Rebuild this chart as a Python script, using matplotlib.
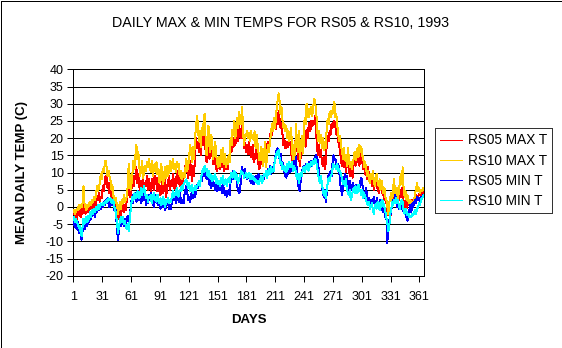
import numpy as np
import matplotlib
matplotlib.use("Agg")
import matplotlib.pyplot as plt
from matplotlib.patches import Rectangle

plt.rcParams['font.family'] = ['Liberation Sans', 'DejaVu Sans']
plt.rcParams['axes.unicode_minus'] = False

# daily temperatures, deg C, day 1..365 of 1993
rs05_max = [
    -1, -3, -2, -4, -1.5, -2.5, -1, -3, -0.5, -2,
    1.5, -1, -2, -0.5, 0.5, -1.5, 0, 1, -0.5, 0.5,
    -1, 1.5, 0, 1, 3, 2, 4, 1.5, 3, 2.5,
    6, 4.5, 7, 9, 8.5, 5.5, 7, 4, 5.5, 3,
    4, 2, 0.5, -1, 1.5, -2, -3.5, -1, -4, -2,
    -0.5, 1, -1.5, 0.5, -1, 2, 4, 5.5, 3,
    3, 5.5, 7, 6, 9, 8, 11.5, 7, 9.5, 6,
    5, 7.5, 4, 8, 5.5, 7, 6, 9, 5, 8,
    6.5, 4.5, 8, 7, 5, 9, 6.5, 8.5, 4.5, 7,
    5, 3.5, 6, 8.5, 4, 6.5, 8, 3, 5.5, 7,
    9, 5, 7.5, 6, 9.5, 5.5, 8, 4, 10.5, 7,
    9, 6, 8, 5, 7.5, 10, 9.5, 12, 10, 13,
    8.5, 11, 13.5, 10, 7.5, 12, 9, 15, 20, 17,
    19, 16, 20.5, 15, 21, 18, 22.5, 23, 16, 13,
    15, 18.5, 14, 16, 17.5, 15, 12.5, 14.5, 13, 11,
    10.5, 12, 14, 11, 13.5, 11.5, 14, 10.5, 13, 11,
    12.5, 11, 14, 15.5, 18, 16, 19, 17.5, 20, 18,
    21, 22.5, 19, 23.5, 21, 20, 26, 22, 17, 18.5,
    16, 18, 15.5, 19, 17, 14.5, 16, 18, 13, 15.5,
    14, 17.5, 15, 12.5, 11, 13.5, 16, 12.5, 14, 15,
    16.5, 14, 18, 19, 17.5, 20, 22.5, 21, 24, 23,
    25, 22.5, 26, 24, 28, 25.5, 23, 24.5, 21, 18,
    19.5, 17, 18, 19, 17.5, 18.5, 19, 16, 13, 15,
    12.5, 17.5, 21, 19, 14, 16, 12, 15, 17, 19.5,
    18, 21, 17.5, 22.5, 20, 23, 24.5, 22, 25, 23.5,
    25, 24, 26.5, 22, 17, 15, 18, 14.5, 16.5, 13,
    12, 14.5, 11, 13, 18, 20.5, 19, 22, 21, 24,
    23, 24.5, 25, 23.5, 21, 22.5, 19, 18, 16, 13,
    12, 15, 11.5, 14, 10, 12.5, 15, 11, 9, 12,
    10, 8.5, 12.5, 13.5, 12, 14.5, 13, 15.5, 12, 16,
    14, 13, 11, 12, 9.5, 10, 8, 11.5, 9, 7.5,
    8.5, 6, 7.5, 5, 6.5, 8, 5.5, 7, 4, 6.5,
    5, 6, 4, 3.5, 2, 3, 1.5, -1, -2.5, 0,
    -3, -1.5, 1, 3.5, 2, 4.5, 3, 1.5, 3.5, 2,
    4, 3, 5.5, 4, 1.5, 0, 2, -0.5, 1, 0.5,
    1.5, 0, 1, 2, 0.5, 1.5, 2.5, 3.5, 2, 3,
    3.5, 4.5, 3, 4, 3.5, 4.5,
]

rs10_max = [
    -1, -2, -1.5, -0.5, -1, 0.5, -0.5, 0.5, 0, 1,
    6, 1, 0, -1, 0.5, 0, 1, 1.5, 0.5, 2,
    1.5, 3, 2, 3.5, 6, 4.5, 5.5, 7, 9.5, 8,
    11, 10, 12, 13.5, 11.5, 9, 10.5, 9, 8, 5,
    6.5, 3.5, 2, 1, 2.5, -1, -2, 0, 1.5, -0.5,
    2, 1, 3.5, 1.5, 2, 3, 6, 12.5, 9,
    5, 7, 10, 13.5, 11, 15, 18, 14, 16, 12,
    9, 11, 13.5, 8.5, 10, 12, 10.5, 13, 11.5, 14,
    12, 10, 13.5, 9, 11, 12.5, 10, 13, 9.5, 11,
    7, 9.5, 12.5, 8, 6.5, 10, 11.5, 8.5, 12, 9,
    11, 13.5, 10.5, 12, 14, 11, 12.5, 10, 13, 11.5,
    12.5, 9, 10.5, 8, 9.5, 10, 8.5, 11, 14, 10.5,
    12, 15, 18, 16, 13, 17.5, 14, 20, 23, 26.5,
    24, 19, 22, 17.5, 23, 21, 25, 27, 20, 15,
    17.5, 23.5, 19, 16, 21, 18, 14, 17, 19, 15,
    13, 11.5, 14.5, 12, 16.5, 13, 17, 12.5, 15.5, 11.5,
    14, 12.5, 15, 13, 20, 18, 22.5, 21, 25, 20,
    24, 26, 23, 27.5, 25, 24, 29, 22, 18, 21,
    20.5, 22, 20, 21.5, 19, 22, 20, 21, 19.5, 22,
    17, 21, 18.5, 16, 13.5, 15, 17.5, 14, 12, 16,
    19, 11.5, 15, 18, 16, 19.5, 21, 24, 22, 26,
    23, 25, 29, 31, 33, 30.5, 27, 29, 25, 23,
    24, 22, 23.5, 20, 22, 19, 21.5, 23, 16, 14,
    18, 13.5, 24, 19, 16, 22, 14, 17, 20.5, 15.5,
    18, 26, 24, 30, 27, 26, 28.5, 27, 29, 26.5,
    29, 31.5, 30, 28, 23, 19, 22, 18.5, 21, 17,
    20, 16.5, 19, 17, 23, 25.5, 24, 27.5, 26, 28,
    27, 29, 30.5, 26, 27, 23.5, 21, 19, 20.5, 17.5,
    16, 14, 17, 13.5, 15, 12, 17, 14.5, 11.5, 13,
    11, 12.5, 14, 16, 13.5, 15.5, 17, 14.5, 18, 16,
    17.5, 15, 14, 11.5, 13, 11, 9, 10.5, 8, 7,
    9.5, 8, 10.5, 7.5, 6, 8.5, 9.5, 7, 6, 8,
    5, 7.5, 6, 4, 5.5, 3, 2, 0.5, -2, 1,
    2.5, 4, 1.5, 5, 8, 4.5, 3, 5.5, 2.5, 4,
    7, 9.5, 6.5, 11.5, 5, 3, 4.5, 2, 3.5, 1.5,
    1, 2, 0.5, 1.5, 0, 2, 4, 5, 7, 4.5,
    5.5, 4, 5, 4.5, 5.5, 5,
]

rs05_min = [
    -4, -6, -5, -6.5, -4.5, -7.5, -6, -8, -9.5, -7,
    -4, -6.5, -5, -3.5, -5.5, -3, -4.5, -2, -3.5, -1.5,
    -2.5, -1, -3, -0.5, -1.5, 0, -1, 0.5, -0.5, 1,
    0, 1.5, 0.5, 2, 1, 2.5, 1, 0, 1.5, 2,
    0.5, 1.5, -1, 0, -3, -7, -9.5, -6, -4, -5.5,
    -3, -4.5, -5.5, -3.5, -5, -4, -2.5, -4.5, -3,
    -0.5, 2, 1, 3.5, 2.5, 4, 1.5, 3, 4.5, 2,
    3.5, 1, 2.5, 4, 2, 3, 0.5, 2.5, 1, 3.5,
    2, 4, 1.5, 3, 0, 2, 3.5, 1, 2.5, 0.5,
    1.5, -0.5, 1, 2, 0, 1.5, -1, 0.5, 2, 1,
    -0.5, 0.5, -0.5, 1.5, 3, 2, 3.5, 1, 2.5, 3,
    1.5, 4, 2.5, 1, 2, 1, 3.5, 5, 6, 4,
    2, 3, 1.5, 3.5, 4.5, 2.5, 5, 3, 4, 6.5,
    5.5, 7, 6, 8.5, 7.5, 10, 9, 11, 8.5, 10.5,
    8, 9, 6.5, 7.5, 5.5, 8, 6, 7, 5, 6.5,
    4.5, 6, 5, 7, 5.5, 4, 6.5, 5, 3.5, 4.5,
    3, 4, 5, 3.5, 7.5, 9, 8, 10.5, 9.5, 8,
    10, 6, 4.5, 4, 5, 10, 11.5, 10, 9.5, 11,
    9, 8, 9.5, 8.5, 8, 7, 8.5, 7.5, 6.5, 8,
    9, 7.5, 8.5, 9.5, 8, 9, 8.5, 9, 8, 8.5,
    9.5, 10, 9, 11, 10.5, 12, 9.5, 11.5, 10, 12.5,
    13, 15.5, 16.5, 17, 15, 14, 15.5, 12, 13, 11.5,
    10, 9, 8.5, 10.5, 9.5, 11, 10, 11.5, 10.5, 12,
    13.5, 12, 14.5, 9.5, 7, 5.5, 4.5, 8, 10.5, 11,
    12, 10.5, 11.5, 12.5, 11, 12, 13, 11.5, 13.5, 12,
    13, 14, 14.5, 15, 14, 13.5, 9, 7, 8.5, 6,
    4, 3, 5, 1.5, 4, 7, 9.5, 8, 10.5, 9,
    12.5, 15, 13.5, 14, 12, 11, 12.5, 10.5, 7, 5,
    3.5, 6, 8, 9.5, 8, 9, 7, 5, 7.5, 6,
    5, 7, 6, 5.5, 4.5, 6.5, 5, 6, 5.5, 7.5,
    8.5, 6.5, 5, 2.5, 4, 5.5, 3, 2, 2.5, 1,
    2, 0.5, 1.5, 3, 1, 0, 2.5, 1, -0.5, 1.5,
    2, 0.5, -1, -1.5, 0, -3, -2, -10.5, -6, -4,
    -3, -1, 0.5, 2, 1, 3.5, 2.5, 0, 1.5, -0.5,
    1, -0.5, 2, 0.5, -1.5, -2, -1, -3, -4, -2.5,
    -1, 0.5, -1.5, 1, 0, 1.5, 2, 1, 3, 2,
    2.5, 1.5, 3, 2.5, 3.5, 3,
]

rs10_min = [
    -3, -4.5, -3.5, -4, -5, -6, -5.5, -7.5, -8.5, -6,
    -3.5, -5, -4, -3, -4.5, -2.5, -3.5, -1.5, -3, -1,
    -2, -0.5, -1.5, 0, -1, 0.5, -0.5, 0, 1, 0.5,
    1, 0.5, 1.5, 1, 2, 1.5, 2.5, 2, 2.5, 1.5,
    1, 2, 0, -1, -2.5, -5, -7.5, -5.5, -4, -3,
    -4.5, -3, -5, -4, -5.5, -6.5, -5, -7, -4,
    -1, 1.5, 3, 2, 4, 3, 2.5, 4.5, 3.5, 2.5,
    4, 5.5, 3.5, 5, 6, 4, 2.5, 3.5, 1.5, 3,
    2.5, 3.5, 1, 2.5, 4, 2, 3, 1.5, 3.5, 2,
    1, 2.5, 0.5, 1.5, 3, 1, 0, 2, 1.5, 2.5,
    1, 2, 1.5, 3, 4.5, 3, 4, 3.5, 5.5, 4,
    3, 5, 4.5, 6, 5, 6.5, 7, 7.5, 8, 6.5,
    5.5, 7, 4.5, 5, 6.5, 4, 5.5, 6, 5, 6,
    6.5, 7.5, 6, 8, 9.5, 11, 10, 12, 10.5, 11,
    9, 10.5, 8.5, 9.5, 8, 7.5, 9, 8, 9.5, 7,
    8, 6.5, 7.5, 6, 8.5, 7, 9, 6.5, 7.5, 8,
    6, 7.5, 8.5, 7, 9, 10, 8.5, 9.5, 10.5, 8,
    9.5, 8, 7, 8.5, 9, 10.5, 9.5, 10, 8.5, 9,
    10, 8.5, 9, 10, 8, 9.5, 8, 9, 8.5, 7.5,
    8, 7, 7.5, 6.5, 7.5, 8, 9, 7, 8.5, 9.5,
    9, 10.5, 8.5, 10, 11, 9.5, 11.5, 10, 11, 10.5,
    13.5, 14.5, 16, 15, 16.5, 14, 12.5, 13, 11, 12,
    10.5, 11.5, 10, 12.5, 11, 13, 12, 11.5, 13, 10.5,
    12, 11, 10, 8, 9.5, 7, 8.5, 10, 9, 10.5,
    11.5, 10, 12, 11, 12.5, 10.5, 11.5, 12.5, 13, 12,
    13.5, 12.5, 14, 13, 12, 9.5, 8, 7, 9, 6.5,
    5, 3.5, 4.5, 2.5, 5, 7, 8.5, 7.5, 9, 9.5,
    11, 12.5, 11.5, 12, 11, 12.5, 10.5, 11, 10, 9.5,
    8, 6.5, 7.5, 6, 8, 5, 4, 3.5, 5, 2,
    3, 4.5, 5.5, 4, 6, 5, 4, 6.5, 5, 4.5,
    3.5, 5, 2.5, 4, 3, 2, 1, 0.5, 1.5, -0.5,
    0.5, 1, -1, -2, 0, 1, -0.5, 1.5, 0.5, -1,
    1.5, 0, 2, 1, 0, -1.5, -3, -4.5, -7, -6,
    -2, -1, 1.5, 0.5, 2, 1, 2.5, 1, 2, 0.5,
    -0.5, 1, 2, 1.5, -1, -2, -0.5, -1.5, -2.5, -2,
    -3, -2.5, -3, -2, -2.5, -1.5, -1, -2, -0.5, 0,
    1, 0.5, 2, 2.5, 3, 3.5,
]

series_names = ['RS05 MAX T', 'RS10 MAX T', 'RS05 MIN T', 'RS10 MIN T']
series_colors = ['#ff0000', '#ffcc00', '#0000ff', '#00ffff']
tick_days = list(range(1, 362, 30))
y_ticks = list(range(-20, 41, 5))

all_series = [rs05_max, rs10_max, rs05_min, rs10_min]
for s in all_series:
    assert len(s) == 365, len(s)
days = np.arange(1, 366)

W, H = 562, 348
PX = 72 / 100  # one pixel in points
fig = plt.figure(figsize=(W / 100, H / 100), dpi=100)
fig.patch.set_facecolor('white')

# plot area in pixels: x 73.4..424.3, y 69.3..275.7
ax = fig.add_axes([73.4 / W, 1 - 275.7 / H, (424.3 - 73.4) / W, (275.7 - 69.3) / H])

lines = []
for vals, name, col in zip(all_series, series_names, series_colors):
    ln, = ax.plot(days, vals, color=col, lw=PX, label=name, antialiased=False, zorder=3)
    lines.append(ln)

ax.set_xlim(0.5, 365.5)
ax.set_ylim(-20, 40)
ax.set_xticks([d - 0.5 for d in tick_days])
ax.set_xticklabels([str(d) for d in tick_days])
ax.set_yticks(y_ticks)
ax.set_yticklabels([str(v) for v in y_ticks])
ax.yaxis.grid(True, color='black', lw=PX, antialiased=False)
ax.set_axisbelow(True)
for sp in ax.spines.values():
    sp.set_color('black')
    sp.set_linewidth(PX)
    sp.set_antialiased(False)
ax.tick_params(axis='both', direction='out', length=4, width=PX, colors='black',
               labelsize=9)
ax.tick_params(axis='x', pad=7)
ax.tick_params(axis='y', pad=3)

fig.text(0.5, 1 - 23 / H, 'DAILY MAX & MIN TEMPS FOR RS05 & RS10, 1993',
         ha='center', va='center', fontsize=10.3)
fig.text(249 / W, 1 - 320 / H, 'DAYS', ha='center', va='center',
         fontsize=9.5, fontweight='bold')
fig.text(22 / W, 1 - 172.5 / H, 'MEAN DAILY TEMP (C)', ha='center', va='center',
         rotation=90, fontsize=9.5, fontweight='bold')

leg = fig.legend(handles=lines, loc='upper left', bbox_to_anchor=(435 / W, 1 - 128 / H),
                 borderaxespad=0, fontsize=9.8, frameon=True, fancybox=False,
                 handlelength=1.6, handletextpad=0.4, labelspacing=0.45,
                 borderpad=0.4)
leg.get_frame().set_edgecolor('black')
leg.get_frame().set_linewidth(PX)
leg.get_frame().set_antialiased(False)
for h in leg.get_lines():
    h.set_linewidth(PX)

# outer frame around the whole chart
fig.patches.append(Rectangle((0.5 / W, 0.5 / H), (W - 1) / W, (H - 1) / H,
                             transform=fig.transFigure, fill=False,
                             edgecolor='black', lw=PX, antialiased=False))

fig.savefig('out.png', dpi=100)
